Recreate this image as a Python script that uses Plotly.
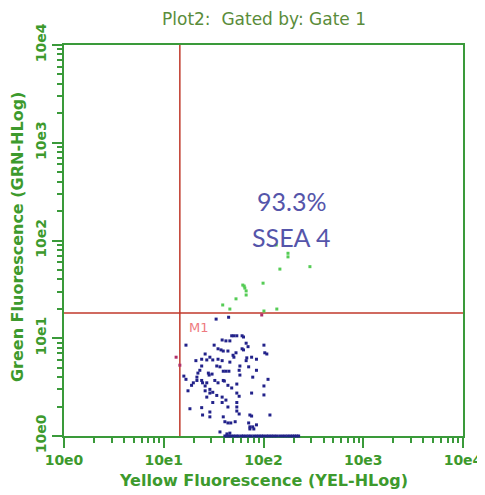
import plotly.graph_objects as go

# ---- data ----
tick_vals = [1, 10, 100, 1000, 10000]
tick_text = ["10e0", "10e1", "10e2", "10e3", "10e4"]
minor_vals = [k * 10 ** d for d in range(4) for k in range(2, 10)]

gate_x = 14.5
gate_y = 18.1

blue_x = [33.5, 44.7, 48, 50.5, 54, 61, 63, 38.5, 42, 46, 67, 70, 101, 103, 108,
          16.7, 32, 35, 37.5, 39.5, 44, 61, 63, 26, 29, 49.5, 50.5, 53, 68, 76, 85,
          21, 24, 27, 31, 35, 38.5, 46, 67, 24, 34, 36.6, 58, 71, 85, 23, 22, 28,
          28.5, 30.5, 39.5, 42, 45, 57, 58, 78, 111, 15.9, 16.7, 21.5, 21.5, 19.8,
          19, 24, 24.5, 26, 27, 32.5, 35, 39.5, 40.5, 48, 54, 44, 17.5, 26, 29, 29,
          31, 27, 34, 38.5, 42, 54, 57, 76, 101, 101, 31, 24, 38.5, 44, 54, 54, 54,
          57, 18.3, 29, 24.5, 29, 39.5, 73, 76, 116, 41, 44, 47, 52, 71, 73, 78, 85,
          36.6, 43, 46, 73, 80]
blue_y = [15.7, 16.4, 10.6, 10.6, 10.6, 10.6, 10.3, 9.6, 9.4, 9.4, 8.9, 8.2, 8.5, 7.1, 6.9,
          8.5, 8.5, 7.8, 7.6, 7.4, 7.4, 7.8, 7.6, 6.9, 6.4, 6.7, 6.4, 7.1, 6.3, 6.4, 6.1,
          5.9, 6.1, 6.0, 6.0, 6.1, 5.9, 5.7, 5.9, 5.2, 5.2, 5.1, 5.2, 5.1, 4.7, 4.7, 4.4, 4.4,
          4.2, 4.3, 4.6, 4.6, 4.6, 4.7, 4.2, 4.0, 3.8, 4.1, 3.8, 4.0, 3.7, 3.5,
          3.3, 3.7, 3.5, 3.25, 3.5, 3.7, 3.5, 3.7, 3.65, 3.1, 3.4, 3.3, 2.9, 2.9, 3.0, 2.75,
          2.8, 2.5, 2.6, 2.5, 2.33, 2.75, 2.55, 2.75, 3.25, 2.63, 2.2, 1.95, 2.2, 1.98, 2.2, 1.98, 1.8,
          1.68, 1.9, 1.76, 1.64, 1.57, 1.57, 1.64, 1.6, 1.64, 1.4, 1.36, 1.36, 1.4, 1.36, 1.24, 1.24, 1.3,
          1.1, 1.05, 1.07, 1.18, 1.18]

floor_x = [41, 43, 45, 47, 50, 53, 56, 60, 63, 67, 71, 75, 80, 85, 90, 95, 100, 107,
           113, 120, 127, 135, 145, 155, 165, 175, 185, 195, 205, 215, 225]
floor_y = [1.0] * len(floor_x)

green_x = [134, 176, 176, 292, 146, 99, 62, 64, 65, 67, 67, 53, 39, 46, 101, 136]
green_y = [90, 74, 68, 54, 51, 36.6, 35, 34.2, 32.6, 30.5, 27.7, 25.3, 21.9, 19.9, 19, 19.9]

red_x = [96, 14.5, 13.3]
red_y = [17.3, 5.3, 6.4]

AX = "#3a9a3a"
TXT = "#3d9a2d"

fig = go.Figure()
fig.add_trace(go.Scatter(x=[gate_x, gate_x], y=[1, 10000], mode="lines",
                         line=dict(color="#c0392b", width=1.5), hoverinfo="skip"))
fig.add_trace(go.Scatter(x=[1, 10000], y=[gate_y, gate_y], mode="lines",
                         line=dict(color="#c0392b", width=1.5), hoverinfo="skip"))
fig.add_trace(go.Scatter(x=blue_x + floor_x, y=blue_y + floor_y, mode="markers",
                         marker=dict(color="#22228a", size=3, symbol="square"),
                         cliponaxis=False))
fig.add_trace(go.Scatter(x=green_x, y=green_y, mode="markers",
                         marker=dict(color="#55cc55", size=3, symbol="square")))
fig.add_trace(go.Scatter(x=red_x, y=red_y, mode="markers",
                         marker=dict(color="#b0306a", size=3, symbol="square")))

axis_common = dict(
    type="log", range=[0, 4], tickmode="array", tickvals=tick_vals, ticktext=tick_text,
    showline=True, linecolor=AX, linewidth=2, mirror=True, ticks="outside",
    ticklen=10, tickwidth=2, tickcolor=AX, showgrid=False, zeroline=False,
    automargin=False,
    tickfont=dict(family="DejaVu Sans", size=14, color=TXT, weight="bold"),
    layer="below traces",
    minor=dict(tickvals=minor_vals, ticks="outside", ticklen=5, tickwidth=1.5,
               tickcolor=AX, showgrid=False),
)

fig.update_xaxes(**axis_common)
fig.update_yaxes(**axis_common, tickangle=-90)

# axis titles and plot title
fig.add_annotation(text="<b>Yellow Fluorescence (YEL-HLog)</b>", xref="paper", yref="paper",
                   x=0.5, y=-0.115, xanchor="center", yanchor="middle", showarrow=False,
                   font=dict(family="DejaVu Sans", size=16, color=TXT))
fig.add_annotation(text="<b>Green Fluorescence (GRN-HLog)</b>", xref="paper", yref="paper",
                   x=-0.115, y=0.509, xanchor="center", yanchor="middle", showarrow=False,
                   textangle=-90, font=dict(family="DejaVu Sans", size=16, color=TXT))
fig.add_annotation(text="Plot2:  Gated by: Gate 1", xref="paper", yref="paper",
                   x=0.5, y=1.066, xanchor="center", yanchor="middle", showarrow=False,
                   font=dict(family="DejaVu Sans", size=17, color="#5a8c3a"))

fig.add_annotation(text="93.3%", xref="paper", yref="paper", x=0.571, y=0.601,
                   showarrow=False, font=dict(family="Lato", size=25, color="#5555aa"))
fig.add_annotation(text="SSEA 4", xref="paper", yref="paper", x=0.569, y=0.509,
                   showarrow=False, font=dict(family="Lato", size=25, color="#5555aa"))
fig.add_annotation(text="M1", xref="paper", yref="paper", x=0.338, y=0.253,
                   showarrow=False, font=dict(family="DejaVu Sans", size=13, color="#ee7a80"))

# the page body adds an 8 px offset, so the margins are reduced by 8 px on the left/top
fig.update_layout(
    width=485, height=495, showlegend=False,
    margin=dict(l=56, r=30, t=37, b=67, autoexpand=False),
    plot_bgcolor="white", paper_bgcolor="white",
)

fig.write_html("out.html")
